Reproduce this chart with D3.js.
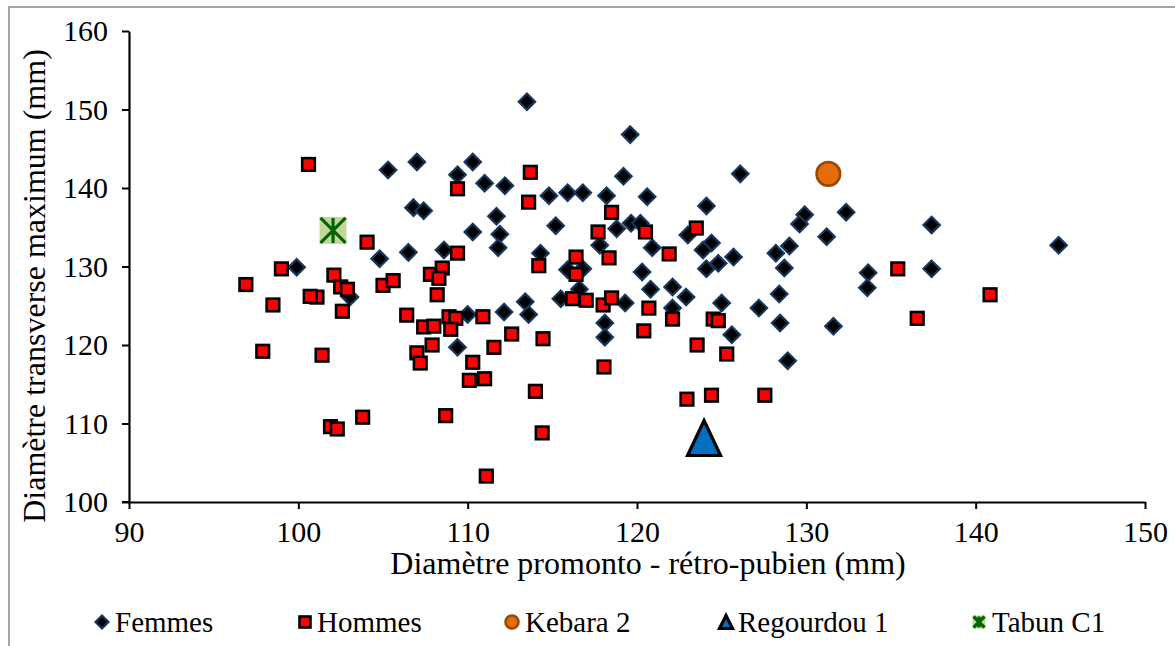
<!DOCTYPE html>
<html><head><meta charset="utf-8">
<script src="https://cdn.jsdelivr.net/npm/d3@7"></script>
<style>
html,body{margin:0;padding:0;background:#fff;}
svg{display:block;}
text{font-family:"Liberation Serif","Times New Roman",serif;fill:#000;}
</style></head>
<body>
<svg id="chart" width="1175" height="646"></svg>
<script>
const xTicks = [90, 100, 110, 120, 130, 140, 150];
const yTicks = [100, 110, 120, 130, 140, 150, 160];
const xTitle = "Diamètre promonto - rétro-pubien (mm)";
const yTitle = "Diamètre transverse maximum (mm)";
const seriesNames = ["Femmes", "Hommes", "Kebara 2", "Regourdou 1", "Tabun C1"];

const femmes = [
  [113.5,151.0],[119.6,146.8],[105.3,142.3],[107.0,143.3],[110.3,143.3],[109.4,141.7],
  [126.1,141.8],[119.2,141.5],[111.0,140.6],[112.2,140.3],[114.8,139.0],[115.9,139.4],
  [116.8,139.4],[118.2,139.0],[120.6,138.9],[124.1,137.7],[106.8,137.5],[107.4,137.1],
  [111.7,136.4],[129.9,136.6],[129.6,135.4],[132.35,136.9],[137.4,135.3],[115.2,135.2],
  [118.8,134.8],[119.65,135.5],[120.2,135.5],[123.0,134.0],[110.3,134.4],[111.9,134.1],
  [131.2,133.8],[124.4,133.0],[123.9,132.1],[111.8,132.4],[117.8,132.7],[120.9,132.4],
  [144.9,132.7],[129.0,132.6],[128.2,131.7],[125.7,131.2],[114.3,131.7],[104.8,131.0],
  [106.5,131.8],[108.6,132.1],[99.9,129.9],[124.1,129.7],[124.8,130.4],[128.7,129.8],
  [115.9,129.6],[116.8,129.7],[120.3,129.3],[133.65,129.2],[137.4,129.7],[122.1,127.4],
  [120.8,127.1],[116.6,127.1],[133.6,127.3],[128.4,126.5],[122.9,126.1],[113.4,125.5],
  [115.5,125.9],[119.3,125.35],[125.0,125.35],[103.05,126.1],[127.2,124.7],[122.1,124.7],
  [110.0,123.9],[112.15,124.2],[113.6,123.9],[118.1,122.8],[118.1,121.0],[128.45,122.8],
  [131.6,122.4],[125.6,121.3],[109.4,119.7],[128.9,118.0]
];

const hommes = [
  [100.6,143.0],[113.7,142.0],[109.4,139.9],[113.6,138.2],[118.5,136.9],[117.7,134.4],
  [120.5,134.4],[123.5,134.9],[104.06,133.1],[109.4,131.7],[118.35,131.1],[121.9,131.6],
  [116.4,131.2],[114.2,130.1],[116.4,129.0],[99.0,129.7],[96.9,127.7],[102.1,128.9],
  [102.5,127.4],[102.9,127.1],[105.0,127.6],[105.6,128.2],[107.8,129.0],[108.5,129.8],
  [108.3,128.5],[108.2,126.4],[101.1,126.1],[100.7,126.2],[98.5,125.1],[102.6,124.3],
  [106.4,123.8],[107.4,122.3],[108.0,122.4],[108.9,123.6],[109.3,123.4],[109.0,122.0],
  [107.9,120.0],[107.0,119.0],[107.2,117.7],[110.3,117.8],[110.1,115.5],[111.0,115.7],
  [97.9,119.2],[101.4,118.7],[103.8,110.8],[101.9,109.6],[102.3,109.3],[108.7,111.0],
  [110.9,123.6],[116.2,125.9],[117.0,125.7],[118.0,125.1],[118.5,126.0],[120.7,124.7],
  [122.1,123.3],[124.5,123.3],[124.8,123.1],[112.6,121.4],[111.55,119.7],[114.45,120.8],
  [120.4,121.8],[123.55,120.0],[118.05,117.2],[114.0,114.1],[122.95,113.1],[124.4,113.6],
  [114.4,108.8],[111.1,103.3],[136.55,123.4],[125.3,118.85],[127.55,113.6],[135.4,129.7],
  [140.85,126.4]
];

const kebara = [[131.3,141.8]];
const regourdou = [[123.96,108.15]];
const tabun = [[102.05,134.6]];

const svg = d3.select("#chart");
const x = d3.scaleLinear().domain([90,150]).range([129,1145]);
const y = d3.scaleLinear().domain([100,160]).range([502,31]);

// outer frame
svg.append("rect").attr("x",9).attr("y",7).attr("width",1200).attr("height",700)
  .attr("fill","none").attr("stroke","#a6a6a6").attr("stroke-width",2);

// axes
const xAxis = svg.append("g").attr("transform",`translate(0,${y(100)})`)
  .call(d3.axisBottom(x).tickValues(xTicks).tickSize(7).tickPadding(12).tickSizeOuter(0));
const yAxis = svg.append("g").attr("transform",`translate(${x(90)},0)`)
  .call(d3.axisLeft(y).tickValues(yTicks).tickSize(7).tickPadding(14).tickSizeOuter(0));
[xAxis,yAxis].forEach(g=>{
  g.attr("font-family",null);
  g.select(".domain").attr("stroke","#000").attr("stroke-width",2.2);
  g.selectAll(".tick line").attr("stroke","#000").attr("stroke-width",2);
  g.selectAll(".tick text").attr("font-size",30).attr("font-family","Liberation Serif, serif").attr("fill","#000");
});
// extend x axis line left to the y tick length
svg.append("line").attr("x1",x(90)-7).attr("x2",x(90)).attr("y1",y(100)).attr("y2",y(100))
  .attr("stroke","#000").attr("stroke-width",2);

svg.append("text").attr("x",648).attr("y",574).attr("text-anchor","middle")
  .attr("font-size",32).text(xTitle);
svg.append("text").attr("transform",`translate(45,286) rotate(-90)`).attr("text-anchor","middle")
  .attr("font-size",32).text(yTitle);

const diamond = s => `M0,${-s}L${s},0L0,${s}L${-s},0Z`;

function drawDiamond(g, cx, cy, s){
  g.append("path").attr("d",diamond(s)).attr("transform",`translate(${cx},${cy})`)
    .attr("fill","#000").attr("stroke","#17375e").attr("stroke-width",2.2);
}
function drawSquare(g, cx, cy, s){
  g.append("rect").attr("x",cx-s/2).attr("y",cy-s/2).attr("width",s).attr("height",s)
    .attr("fill","#ff0000").attr("stroke","#000").attr("stroke-width",2.6);
}
function drawCircle(g, cx, cy, r){
  g.append("circle").attr("cx",cx).attr("cy",cy).attr("r",r)
    .attr("fill","#e46c0a").attr("stroke","#984807").attr("stroke-width",2.6);
}
function drawTriangle(g, cx, cy, w, h){
  g.append("path").attr("d",`M${cx},${cy-h/2}L${cx+w/2},${cy+h/2}L${cx-w/2},${cy+h/2}Z`)
    .attr("fill","#0070c0").attr("stroke","#000").attr("stroke-width",3.2).attr("stroke-linejoin","miter");
}
function drawStar(g, cx, cy, s){
  g.append("rect").attr("x",cx-s/2).attr("y",cy-s/2).attr("width",s).attr("height",s)
    .attr("fill","#c3d69b");
  const h = s/2 - 1;
  g.append("path").attr("d",`M${cx-h},${cy-h}L${cx+h},${cy+h}M${cx+h},${cy-h}L${cx-h},${cy+h}M${cx},${cy-h}L${cx},${cy+h}`)
    .attr("stroke","#006600").attr("stroke-width",3.2).attr("fill","none");
}

const plot = svg.append("g");
femmes.forEach(d=>drawDiamond(plot, x(d[0]), y(d[1]), 8.2));
hommes.forEach(d=>drawSquare(plot, x(d[0]), y(d[1]), 12.6));
kebara.forEach(d=>drawCircle(plot, x(d[0]), y(d[1]), 11.8));
regourdou.forEach(d=>drawTriangle(plot, x(d[0]), y(d[1]), 33, 35));
tabun.forEach(d=>drawStar(plot, x(d[0]), y(d[1]), 27));

// legend
const leg = svg.append("g");
const ly = 622;
const legItems = [
  {name:seriesNames[0], mx:102, tx:115, draw:(g,cx,cy)=>drawDiamond(g,cx,cy,6.5)},
  {name:seriesNames[1], mx:305, tx:317, draw:(g,cx,cy)=>drawSquare(g,cx,cy,11)},
  {name:seriesNames[2], mx:512, tx:525, draw:(g,cx,cy)=>drawCircle(g,cx,cy,6.5)},
  {name:seriesNames[3], mx:726, tx:738, draw:(g,cx,cy)=>drawTriangle(g,cx,cy,13,13)},
  {name:seriesNames[4], mx:979, tx:992, draw:(g,cx,cy)=>drawStar(g,cx,cy,13)}
];
legItems.forEach(it=>{
  it.draw(leg, it.mx, ly);
  leg.append("text").attr("x",it.tx).attr("y",ly+10).attr("font-size",29).text(it.name);
});
</script>
</body></html>
